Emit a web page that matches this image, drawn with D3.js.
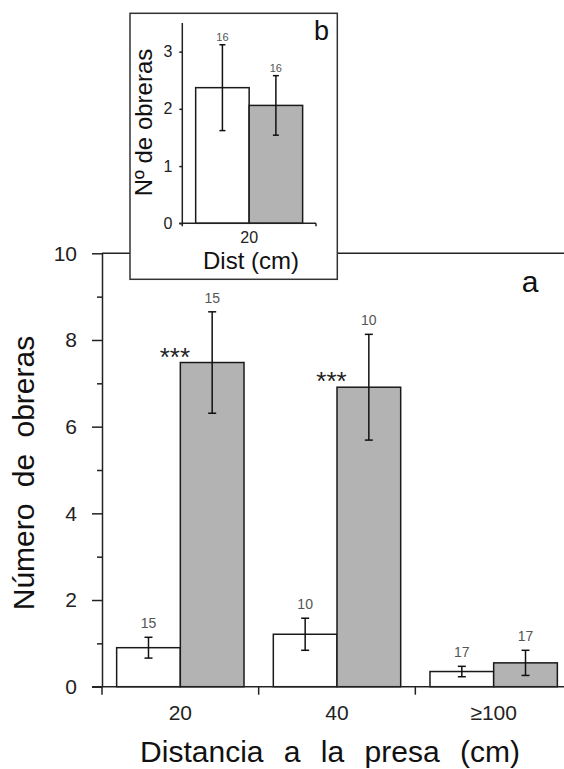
<!DOCTYPE html>
<html lang="es">
<head>
<meta charset="UTF-8">
<title>Número de obreras</title>
<script src="https://cdn.jsdelivr.net/npm/d3@7"></script>
<style>
	body { margin: 0; background: #fff; }
	svg { display: block; font-family: "Liberation Sans", Arial, sans-serif; }
	.axis path, .axis line { stroke: #222; stroke-width: 1.5; }
	.axis text { fill: #222; }
	.bar { stroke: #1a1a1a; stroke-width: 1.5; }
	.err { stroke: #111; stroke-width: 1.5; }
	.nlab { fill: #555; text-anchor: middle; }
</style>
</head>
<body>
<div id="chart"></div>
<script>
// main chart (a)
var categories = ["20", "40", "\u2265100"];
var seriesKeys = ["blanco", "gris"];
var meanWhite = [0.90, 1.21, 0.35];
var errWhite = [0.24, 0.37, 0.12];
var meanGray = [7.48, 6.91, 0.55];
var errGray = [1.17, 1.22, 0.29];
var nWhite = [15, 10, 17];
var nGray = [15, 10, 17];
var sigGray = ["***", "***", ""];
var majorTicks = [0, 2, 4, 6, 8, 10];
var minorTicks = [1, 3, 5, 7, 9];

// inset (b)
var insetCategories = ["20"];
var insetMeanWhite = [2.37];
var insetErrWhite = [0.75];
var insetMeanGray = [2.06];
var insetErrGray = [0.52];
var insetNWhite = [16];
var insetNGray = [16];
var insetTicks = [0, 1, 2, 3];

var W = 564, H = 769;
var fills = { blanco: "#ffffff", gris: "#b3b3b3" };

var svg = d3.select("#chart").append("svg")
	.attr("width", W)
	.attr("height", H);

function rows(cats, mw, ew, mg, eg, nw, ng, sig) {
	var out = [];
	cats.forEach(function (c, i) {
		out.push({ cat: c, key: "blanco", mean: mw[i], err: ew[i], n: nw[i], sig: "" });
		out.push({ cat: c, key: "gris", mean: mg[i], err: eg[i], n: ng[i], sig: sig ? sig[i] : "" });
	});
	return out;
}

// ---------- main chart ----------
var x0 = d3.scaleBand().domain(categories).range([102, 572]).paddingInner(0).paddingOuter(0);
var x1 = d3.scaleBand().domain(seriesKeys).range([0, x0.bandwidth()]).paddingInner(0).paddingOuter(0.23);
var y = d3.scaleLinear().domain([0, 10]).range([686.7, 253.3]);

var data = rows(categories, meanWhite, errWhite, meanGray, errGray, nWhite, nGray, sigGray);

var g = svg.append("g");

// top line at 10
g.append("line")
	.attr("x1", 102).attr("x2", W)
	.attr("y1", y(10)).attr("y2", y(10))
	.attr("stroke", "#222").attr("stroke-width", 1.5);

// bars
g.selectAll(".bar").data(data).enter().append("rect")
	.attr("class", "bar")
	.attr("x", function (d) { return x0(d.cat) + x1(d.key); })
	.attr("y", function (d) { return y(d.mean); })
	.attr("width", x1.bandwidth())
	.attr("height", function (d) { return y(0) - y(d.mean); })
	.attr("fill", function (d) { return fills[d.key]; });

function errorBars(sel, xs, ys, cap) {
	var e = sel.append("g").attr("class", "err")
		.attr("transform", function (d) { return "translate(" + xs(d) + ",0)"; });
	e.append("line").attr("y1", function (d) { return ys(d.mean + d.err); })
		.attr("y2", function (d) { return ys(d.mean - d.err); });
	e.append("line").attr("x1", -cap).attr("x2", cap)
		.attr("y1", function (d) { return ys(d.mean + d.err); })
		.attr("y2", function (d) { return ys(d.mean + d.err); });
	e.append("line").attr("x1", -cap).attr("x2", cap)
		.attr("y1", function (d) { return ys(d.mean - d.err); })
		.attr("y2", function (d) { return ys(d.mean - d.err); });
}

var barCenter = function (d) { return x0(d.cat) + x1(d.key) + x1.bandwidth() / 2; };
errorBars(g.selectAll(".errg").data(data).enter().append("g"), barCenter, y, 4);

g.selectAll(".nlab-a").data(data).enter().append("text")
	.attr("class", "nlab")
	.attr("x", barCenter)
	.attr("y", function (d) { return y(d.mean + d.err) - 9; })
	.style("font-size", "14px")
	.text(function (d) { return d.n; });

g.selectAll(".sig").data(data.filter(function (d) { return d.sig; })).enter().append("text")
	.attr("x", function (d) { return x0(d.cat) + x1(d.key) - 5.5; })
	.attr("y", function (d) { return y(d.mean) + 3; })
	.attr("text-anchor", "middle")
	.style("font-size", "26px")
	.attr("fill", "#222")
	.text(function (d) { return d.sig; });

// y axis
var yAxis = g.append("g").attr("class", "axis")
	.attr("transform", "translate(102,0)")
	.call(d3.axisLeft(y).tickValues(majorTicks).tickSize(10).tickSizeOuter(0).tickPadding(15));
yAxis.selectAll("text").style("font-size", "21px");

g.append("g").attr("class", "axis")
	.attr("transform", "translate(102,0)")
	.call(d3.axisLeft(y).tickValues(minorTicks).tickSize(5).tickFormat(""))
	.select(".domain").remove();

// x axis
g.append("line")
	.attr("x1", 92).attr("x2", W)
	.attr("y1", y(0)).attr("y2", y(0))
	.attr("stroke", "#222").attr("stroke-width", 1.5);

g.selectAll(".bound").data(categories).enter().append("line")
	.attr("x1", function (d) { return x0(d); }).attr("x2", function (d) { return x0(d); })
	.attr("y1", y(0)).attr("y2", y(0) + 8)
	.attr("stroke", "#222").attr("stroke-width", 1.5);

var xAxis = g.append("g").attr("class", "axis")
	.attr("transform", "translate(0," + y(0) + ")")
	.call(d3.axisBottom(x0).tickSize(0).tickPadding(18));
xAxis.select(".domain").remove();
xAxis.selectAll("text").style("font-size", "21px");

g.append("text")
	.attr("x", 330).attr("y", 762)
	.attr("text-anchor", "middle")
	.style("font-size", "30px").style("word-spacing", "12px")
	.attr("fill", "#111")
	.text("Distancia a la presa (cm)");

g.append("text")
	.attr("transform", "translate(34,473) rotate(-90)")
	.attr("text-anchor", "middle")
	.style("font-size", "30px").style("word-spacing", "8px")
	.attr("fill", "#111")
	.text("Número de obreras");

g.append("text")
	.attr("x", 530).attr("y", 291.5)
	.attr("text-anchor", "middle")
	.style("font-size", "30px")
	.attr("fill", "#111")
	.text("a");

// ---------- inset (b) ----------
var inset = svg.append("g");
inset.append("rect")
	.attr("x", 130).attr("y", 13.3)
	.attr("width", 207.3).attr("height", 266)
	.attr("fill", "#fff").attr("stroke", "#333").attr("stroke-width", 1.5);

var ix0 = d3.scaleBand().domain(insetCategories).range([182.3, 316]).paddingInner(0).paddingOuter(0);
var ix1 = d3.scaleBand().domain(seriesKeys).range([0, ix0.bandwidth()]).paddingOuter(0.25);
var iy = d3.scaleLinear().domain([0, 3.5]).range([223.3, 23]);

var idata = rows(insetCategories, insetMeanWhite, insetErrWhite, insetMeanGray, insetErrGray, insetNWhite, insetNGray, null);

inset.selectAll(".bar").data(idata).enter().append("rect")
	.attr("class", "bar")
	.attr("x", function (d) { return ix0(d.cat) + ix1(d.key); })
	.attr("y", function (d) { return iy(d.mean); })
	.attr("width", ix1.bandwidth())
	.attr("height", function (d) { return iy(0) - iy(d.mean); })
	.attr("fill", function (d) { return fills[d.key]; });

var iCenter = function (d) { return ix0(d.cat) + ix1(d.key) + ix1.bandwidth() / 2; };
errorBars(inset.selectAll(".errg").data(idata).enter().append("g"), iCenter, iy, 3);

inset.selectAll(".nlab-b").data(idata).enter().append("text")
	.attr("class", "nlab")
	.attr("x", iCenter)
	.attr("y", function (d) { return iy(d.mean + d.err) - 4; })
	.style("font-size", "11px")
	.text(function (d) { return d.n; });

var iyAxis = inset.append("g").attr("class", "axis")
	.attr("transform", "translate(182.3,0)")
	.call(d3.axisLeft(iy).tickValues(insetTicks).tickFormat(d3.format("d")).tickSize(3).tickSizeOuter(0).tickPadding(7));
iyAxis.selectAll("text").style("font-size", "16px");
iyAxis.select(".domain").attr("d", "M0," + iy(3.5) + "V" + (iy(0) + 3));

inset.append("line")
	.attr("x1", 179.3).attr("x2", 316)
	.attr("y1", iy(0)).attr("y2", iy(0))
	.attr("stroke", "#222").attr("stroke-width", 1.5);
inset.append("line")
	.attr("x1", 316).attr("x2", 316)
	.attr("y1", iy(0)).attr("y2", iy(0) + 3)
	.attr("stroke", "#222").attr("stroke-width", 1.5);

var ixAxis = inset.append("g").attr("class", "axis")
	.attr("transform", "translate(0," + iy(0) + ")")
	.call(d3.axisBottom(ix0).tickSize(0).tickPadding(8));
ixAxis.select(".domain").remove();
ixAxis.selectAll("text").style("font-size", "16px");

inset.append("text")
	.attr("x", 251).attr("y", 269)
	.attr("text-anchor", "middle")
	.style("font-size", "24px")
	.attr("fill", "#111")
	.text("Dist (cm)");

inset.append("text")
	.attr("transform", "translate(152,122.5) rotate(-90)")
	.attr("text-anchor", "middle")
	.style("font-size", "24px")
	.attr("fill", "#111")
	.text("Nº de obreras");

inset.append("text")
	.attr("x", 321.5).attr("y", 40)
	.attr("text-anchor", "middle")
	.style("font-size", "27px")
	.attr("fill", "#111")
	.text("b");
</script>
</body>
</html>
